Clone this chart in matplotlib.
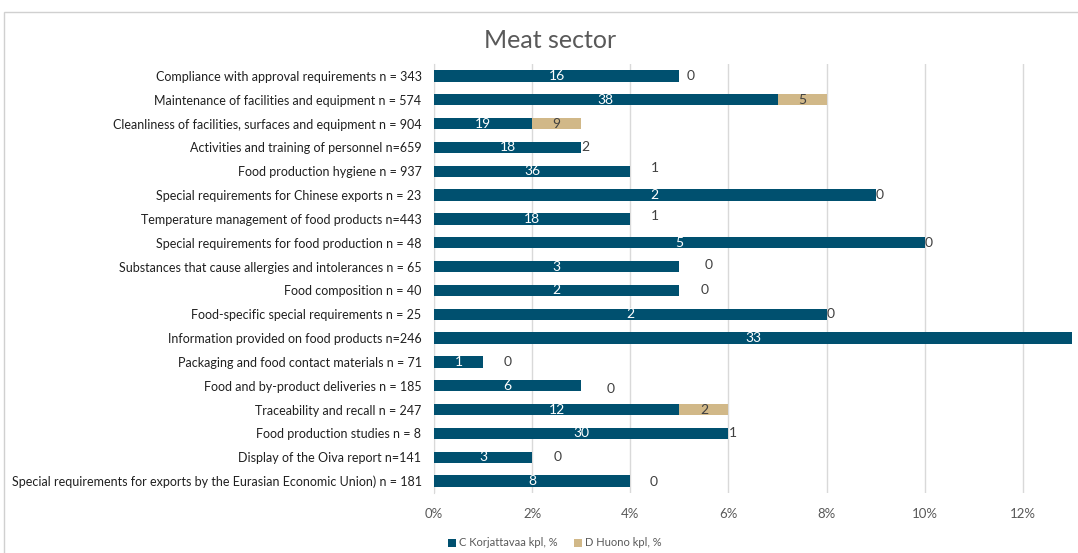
import matplotlib.pyplot as plt
from matplotlib.patches import Rectangle

# Luokat ylhäältä alas
kategoriat = [
    "Compliance with approval requirements n = 343",
    "Maintenance of facilities and equipment n = 574",
    "Cleanliness of facilities, surfaces and equipment n = 904",
    "Activities and training of personnel n=659",
    "Food production hygiene n = 937",
    "Special requirements for Chinese exports n = 23",
    "Temperature management of food products n=443",
    "Special requirements for food production n = 48",
    "Substances that cause allergies and intolerances n = 65",
    "Food composition n = 40",
    "Food-specific special requirements n = 25",
    "Information provided on food products n=246",
    "Packaging and food contact materials n = 71",
    "Food and by-product deliveries n = 185",
    "Traceability and recall n = 247",
    "Food production studies n = 8",
    "Display of the Oiva report n=141",
    "Special requirements for exports by the Eurasian Economic Union) n = 181",
]

# Osuudet prosentteina
c_pros = [5, 7, 2, 3, 4, 9, 4, 10, 5, 5, 8, 13, 1, 3, 5, 6, 2, 4]
d_pros = [0, 1, 1, 0, 0, 0, 0, 0, 0, 0, 0, 0, 0, 0, 1, 0, 0, 0]

# Kappalemäärät (datalabelit)
c_kpl = [16, 38, 19, 18, 36, 2, 18, 5, 3, 2, 2, 33, 1, 6, 12, 30, 3, 8]
d_kpl = [0, 5, 9, 2, 1, 0, 1, 0, 0, 0, 0, 0, 0, 0, 2, 1, 0, 0]

# Nollalevyisten D-labelien siirto oikealle (pt) ja ylös (pt)
d_siirto_x = [5, 0, 0, 0, 15, 0, 15, 0, 18, 15, 0, 0, 15, 18, 0, 0, 15, 14]
d_siirto_y = [0, 0, 0, 0, 2, 0, 2, 0, 1, 0, 0, 0, 0, -2, 0, 0, 0, -1]

vari_c = "#00506f"
vari_d = "#d1b888"
harmaa = "#595959"
xmax = 13

plt.rcParams["font.family"] = ["Lato", "DejaVu Sans"]

fig = plt.figure(figsize=(10.78, 5.53), dpi=100)
ax = fig.add_axes([434 / 1078, 1 - 493 / 553, 638 / 1078, 429 / 553])

# Kaavion reunaviiva
fig.patches.append(Rectangle((4 / 1078, -0.01), 1.02, 1 - 12 / 553 + 0.01,
                             transform=fig.transFigure, fill=False,
                             edgecolor="#d0d0d0", linewidth=1))

y = list(range(len(kategoriat)))
ax.barh(y, c_pros, height=0.47, color=vari_c, label="C Korjattavaa kpl, %", zorder=3)
ax.barh(y, d_pros, left=c_pros, height=0.47, color=vari_d, label="D Huono kpl, %", zorder=3)

for i in y:
    ax.text(c_pros[i] / 2, i, str(c_kpl[i]), color="white", fontsize=10,
            ha="center", va="center", zorder=4)
    if d_pros[i] > 0:
        ax.text(c_pros[i] + d_pros[i] / 2, i, str(d_kpl[i]), color="#404040",
                fontsize=10, ha="center", va="center", zorder=4)
    elif c_pros[i] < xmax:
        ax.annotate(str(d_kpl[i]), (c_pros[i], i), xytext=(d_siirto_x[i] + 3, d_siirto_y[i]),
                    textcoords="offset points", color="#404040", fontsize=10,
                    ha="center", va="center", zorder=4)

ax.set_xlim(0, xmax)
ax.set_ylim(len(kategoriat) - 0.5, -0.5)
ax.set_xticks([0, 2, 4, 6, 8, 10, 12])
ax.set_xticklabels([f"{t}%" for t in [0, 2, 4, 6, 8, 10, 12]])
ax.set_yticks(y)
ax.set_yticklabels(kategoriat, fontsize=9, color="#202020")
ax.tick_params(axis="x", colors=harmaa, labelsize=9.5, length=0, pad=11)
ax.tick_params(axis="y", length=0, pad=9)
ax.grid(axis="x", color="#d9d9d9", linewidth=1, zorder=0)
for s in ["top", "right", "bottom"]:
    ax.spines[s].set_visible(False)
ax.spines["left"].set_color("#d9d9d9")

fig.text(0.51, 1 - 41 / 553, "Meat sector", fontsize=18, color=harmaa,
         ha="center", va="center")
fig.legend(loc="center", bbox_to_anchor=(555 / 1078, 1 - 543 / 553), ncol=2,
           frameon=False, fontsize=8, labelcolor=harmaa, handlelength=0.7,
           handleheight=0.7, handletextpad=0.3, columnspacing=1.5)

fig.savefig("out.png", dpi=100)
